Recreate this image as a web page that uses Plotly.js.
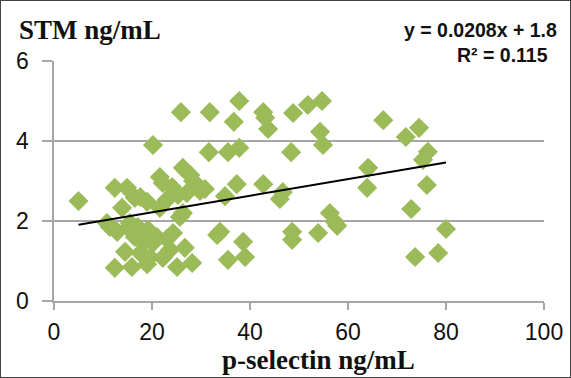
<!DOCTYPE html>
<html><head><meta charset="utf-8">
<script src="https://cdn.plot.ly/plotly-3.0.1.min.js"></script>
<style>html,body{margin:0;padding:0;background:#fff}#c{width:571px;height:378px;box-sizing:border-box;border:1px solid #444;}</style>
</head><body><div id="c"></div>
<script>
const pSelectin = [5,10.8,12.4,14.9,16.5,13.9,12.9,15.1,14.5,12.4,15.9,17.6,19,20.2,21.6,22.2,23,21.6,25.3,24.1,26.3,27.8,28.4,29.8,27.1,25.7,26.3,16.5,19.2,21,24.3,23,26.7,23.7,17.6,19.6,18.2,20.2,22.2,25.1,28.2,19,11.4,17.1,15.5,25.9,31.8,37.8,36.7,31.6,35.5,37.8,30.8,34.9,37.3,33.3,33.9,38.6,35.5,39,42.7,43.1,43.7,48.8,51.8,54.7,54.3,54.9,48.4,42.7,46.1,46.7,48.6,48.6,53.9,56.3,57.8,57.3,64.1,63.9,67.2,71.8,74.5,76.3,75.3,76.1,72.9,80,73.7,78.4];
const stm = [2.5,1.95,2.83,2.83,2.58,2.33,1.73,1.83,1.23,0.83,0.85,2.6,2.48,3.9,3.1,2.95,2.53,2.33,2.65,2.85,3.33,3.15,3.0,2.75,2.7,2.1,2.2,1.6,1.78,1.6,1.7,1.55,1.33,1.28,1.2,1.1,1.45,1.45,1.08,0.85,0.95,0.92,1.85,1.85,1.95,4.72,4.72,5.0,4.48,3.72,3.72,3.83,2.8,2.62,2.92,1.65,1.73,1.48,1.03,1.1,4.72,4.58,4.3,4.7,4.9,5.0,4.23,3.9,3.72,2.92,2.55,2.72,1.73,1.53,1.7,2.2,1.88,1.98,3.33,2.83,4.52,4.1,4.33,3.73,3.53,2.9,2.3,1.8,1.1,1.2];
const slope = 0.0208, intercept = 1.8;
const trendX = [5, 80];
const xTicks = [0,20,40,60,80,100];
const yTicks = [0,2,4,6];

const trendY = trendX.map(x => slope*x + intercept);
const traces = [
  {x:pSelectin, y:stm, type:'scatter', mode:'markers',
   marker:{symbol:'diamond', size:15.5, color:'#9BBB59', line:{width:0}}, hoverinfo:'skip'},
  {x:trendX, y:trendY, type:'scatter', mode:'lines', line:{color:'#000', width:2}, hoverinfo:'skip'}
];
const sans = 'Liberation Sans, Arial, sans-serif';
const serif = 'Liberation Serif, Times New Roman, serif';
const yLabelAnns = yTicks.map(v => ({text:String(v), xref:'paper', yref:'y', x:-0.065, y:v, xanchor:'center', yanchor:'middle',
  showarrow:false, font:{family:sans, size:23, color:'#111'}}));
const layout = {
  width:569, height:376, showlegend:false,
  paper_bgcolor:'#fff', plot_bgcolor:'#fff',
  margin:{l:53, r:26, t:60, b:76},
  xaxis:{range:[0,100], tickvals:xTicks, ticktext:xTicks.map(String), showgrid:false, zeroline:false,
    showline:true, linecolor:'#a6a6a6', linewidth:2, ticks:'outside', ticklen:7, tickcolor:'#a6a6a6', tickwidth:2,
    tickfont:{family:sans, size:23, color:'#111'}, ticklabelstandoff:2, fixedrange:true},
  yaxis:{range:[0,6], tickvals:yTicks, showticklabels:false, showgrid:true, gridcolor:'#a6a6a6', gridwidth:2,
    zeroline:false, showline:true, linecolor:'#a6a6a6', linewidth:2, ticks:'outside', ticklen:10, tickcolor:'#a6a6a6', tickwidth:2,
    fixedrange:true},
  annotations:[
    {text:'<b>STM ng/mL</b>', xref:'paper', yref:'paper', x:-0.075, y:1.13, xanchor:'left', yanchor:'middle', showarrow:false,
     font:{family:serif, size:27, color:'#111'}},
    {text:'<b>p-selectin ng/mL</b>', xref:'paper', yref:'paper', x:0.54, y:-0.245, xanchor:'center', yanchor:'middle', showarrow:false,
     font:{family:serif, size:27, color:'#111'}},
    {text:'<b>y = 0.0208x + 1.8</b>', xref:'paper', yref:'paper', x:1.03, y:1.13, xanchor:'right', yanchor:'middle', showarrow:false,
     font:{family:sans, size:19.5, color:'#111'}},
    {text:'<b>R² = 0.115</b>', xref:'paper', yref:'paper', x:1.012, y:1.025, xanchor:'right', yanchor:'middle', showarrow:false,
     font:{family:sans, size:19.5, color:'#111'}}
  ].concat(yLabelAnns)
};
Plotly.newPlot('c', traces, layout, {displayModeBar:false, staticPlot:true});
</script></body></html>
